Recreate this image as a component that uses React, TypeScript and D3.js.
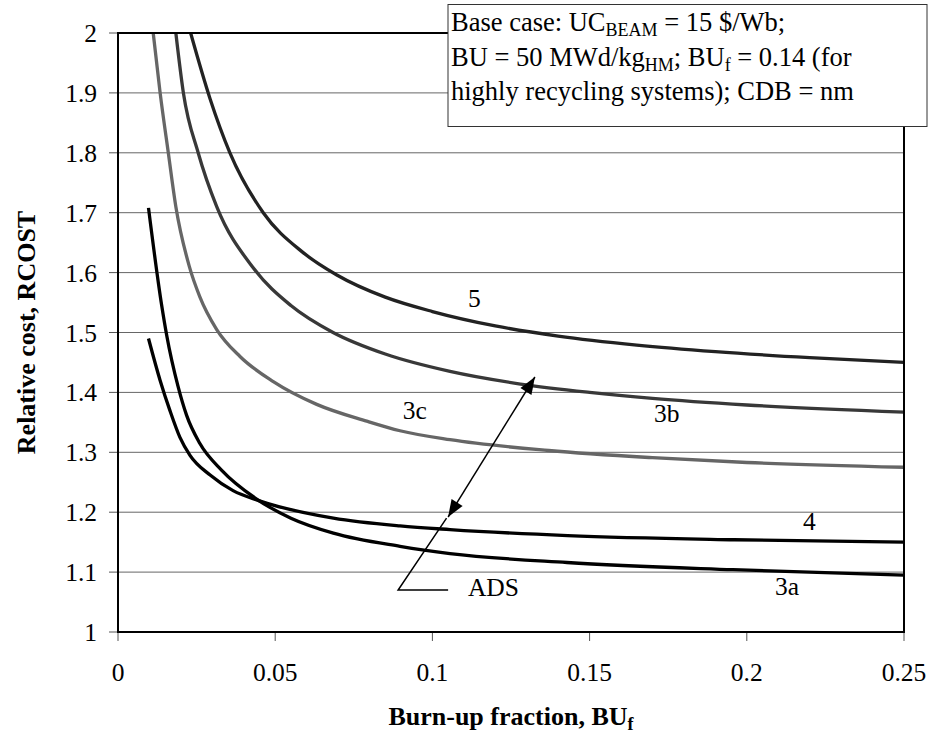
import React from 'react';
import * as d3 from 'd3';

// values: burn-up fraction -> relative cost
const bu5 = [0.0231, 0.0293, 0.0356, 0.0462, 0.0585, 0.0696, 0.085, 0.1, 0.12, 0.14, 0.165, 0.19, 0.22, 0.25];
const cost5 = [2.0, 1.89, 1.8, 1.7, 1.635, 1.596, 1.559, 1.535, 1.511, 1.494, 1.479, 1.468, 1.458, 1.45];

const bu3b = [0.0184, 0.0208, 0.0255, 0.0314, 0.043, 0.055, 0.0684, 0.085, 0.1056, 0.128, 0.15, 0.17, 0.2, 0.25];
const cost3b = [2.0, 1.9, 1.8, 1.71, 1.608, 1.545, 1.5, 1.464, 1.435, 1.414, 1.4, 1.39, 1.379, 1.367];

const bu3c = [0.0112, 0.0134, 0.016, 0.0184, 0.0227, 0.026, 0.0314, 0.0388, 0.0494, 0.0632, 0.0791, 0.0897, 0.1056, 0.137, 0.17, 0.2, 0.25];
const cost3c = [2.0, 1.9, 1.8, 1.71, 1.61, 1.56, 1.505, 1.46, 1.418, 1.38, 1.352, 1.336, 1.321, 1.303, 1.291, 1.283, 1.275];

const bu3a = [0.0097, 0.0139, 0.0155, 0.0191, 0.0218, 0.026, 0.033, 0.0441, 0.055, 0.0685, 0.0897, 0.1056, 0.1428, 0.1956, 0.25];
const cost3a = [1.708, 1.545, 1.495, 1.41, 1.362, 1.315, 1.27, 1.222, 1.19, 1.165, 1.143, 1.131, 1.116, 1.104, 1.095];

const bu4 = [0.0097, 0.0134, 0.0165, 0.0197, 0.0229, 0.0293, 0.0366, 0.045, 0.0685, 0.0897, 0.1056, 0.143, 0.196, 0.25];
const cost4 = [1.49, 1.42, 1.37, 1.325, 1.295, 1.262, 1.236, 1.219, 1.19, 1.177, 1.171, 1.161, 1.154, 1.15];

const xTicks = [0, 0.05, 0.1, 0.15, 0.2, 0.25];
const xTickLabels = ['0', '0.05', '0.1', '0.15', '0.2', '0.25'];
const yTicks = [1, 1.1, 1.2, 1.3, 1.4, 1.5, 1.6, 1.7, 1.8, 1.9, 2];
const yTickLabels = ['1', '1.1', '1.2', '1.3', '1.4', '1.5', '1.6', '1.7', '1.8', '1.9', '2'];

const seriesNames = ['5', '3b', '3c', '4', '3a'];
const seriesBu = [bu5, bu3b, bu3c, bu4, bu3a];
const seriesCost = [cost5, cost3b, cost3c, cost4, cost3a];
const seriesColor = ['#222', '#383838', '#666', '#000', '#000'];

// curve labels anchored in data coordinates
const labelText = ['5', '3c', '3b', '4', '3a', 'ADS'];
const labelBu = [0.1113, 0.0906, 0.1705, 0.2179, 0.209, 0.1113];
const labelCost = [1.5426, 1.355, 1.351, 1.17, 1.062, 1.06];

const FONT = "'Liberation Serif', 'Times New Roman', Times, serif";

export default function App() {
  const W = 929, H = 738;
  const x = d3.scaleLinear().domain([0, 0.25]).range([118, 904]);
  const y = d3.scaleLinear().domain([1, 2]).range([632, 33]);

  const line = d3.line<[number, number]>()
    .x(d => x(d[0]))
    .y(d => y(d[1]))
    .curve(d3.curveMonotoneX);

  // arrow between ADS curves
  const aTop: [number, number] = [x(0.1326), y(1.4257)];
  const aBot: [number, number] = [x(0.105), y(1.192)];
  const ang = Math.atan2(aTop[1] - aBot[1], aTop[0] - aBot[0]);
  const head = (tip: [number, number], dir: number) => {
    const len = 17, half = 6.5;
    const bx = tip[0] - Math.cos(dir) * len, by = tip[1] - Math.sin(dir) * len;
    const px = -Math.sin(dir) * half, py = Math.cos(dir) * half;
    return `M${tip[0]},${tip[1]}L${bx + px},${by + py}L${bx - px},${by - py}Z`;
  };

  const sub = { fontSize: 18 };

  return (
    <svg width={W} height={H} style={{ position: 'absolute', left: 0, top: 0, background: '#fff', fontFamily: FONT }}>
      <rect width={W} height={H} fill="#fff" />
      {/* grid */}
      {yTicks.map(t => (
        <line key={'g' + t} x1={x(0)} x2={x(0.25)} y1={y(t)} y2={y(t)} stroke="#666" strokeWidth={1} />
      ))}
      {/* ticks */}
      {yTicks.map((t, i) => (
        <g key={'yt' + t}>
          <line x1={x(0) - 9} x2={x(0)} y1={y(t)} y2={y(t)} stroke="#555" strokeWidth={1} />
          <text x={97} y={y(t) + 9} fontSize={25.5} textAnchor="end">{yTickLabels[i]}</text>
        </g>
      ))}
      {xTicks.map((t, i) => (
        <g key={'xt' + t}>
          <line x1={x(t)} x2={x(t)} y1={y(1)} y2={y(1) + 9} stroke="#555" strokeWidth={1} />
          <text x={x(t)} y={y(1) + 49} fontSize={25.5} textAnchor="middle">{xTickLabels[i]}</text>
        </g>
      ))}
      {/* curves */}
      {seriesNames.map((n, i) => (
        <path key={'s' + n}
          d={line(seriesBu[i].map((b, j) => [b, seriesCost[i][j]] as [number, number])) || ''}
          fill="none" stroke={seriesColor[i]} strokeWidth={3.3} />
      ))}
      {/* frame */}
      <rect x={x(0)} y={y(2)} width={x(0.25) - x(0)} height={y(1) - y(2)} fill="none" stroke="#000" strokeWidth={2} />
      {/* arrow */}
      <line x1={aBot[0]} y1={aBot[1]} x2={aTop[0]} y2={aTop[1]} stroke="#000" strokeWidth={1.5} />
      <path d={head(aTop, ang)} fill="#000" />
      <path d={head(aBot, ang + Math.PI)} fill="#000" />
      {/* ADS callout */}
      <polyline points={`${x(0.105)},${y(1.07)} ${x(0.0891)},${y(1.07)} ${x(0.1045)},${y(1.19)}`}
        fill="none" stroke="#000" strokeWidth={1.5} />
      {labelText.map((t, i) => (
        <text key={'l' + t} x={x(labelBu[i])} y={y(labelCost[i])} fontSize={25.5}>{t}</text>
      ))}
      {/* note box */}
      <rect x={448} y={4.5} width={479} height={122} fill="#fff" stroke="#333" strokeWidth={1} />
      <text x={451} y={31} fontSize={26.5}>
        Base case: UC<tspan dy={5} style={sub}>BEAM</tspan><tspan dy={-5}> = 15 $/Wb;</tspan>
      </text>
      <text x={451} y={66} fontSize={26.5}>
        BU = 50 MWd/kg<tspan dy={5} style={sub}>HM</tspan><tspan dy={-5}>; BU</tspan>
        <tspan dy={5} style={sub}>f</tspan><tspan dy={-5}> = 0.14 (for</tspan>
      </text>
      <text x={451} y={100} fontSize={26.5}>highly recycling systems); CDB = nm</text>
      {/* axis titles */}
      <text x={x(0.125)} y={725} fontSize={26} fontWeight="bold" textAnchor="middle">
        Burn-up fraction, BU<tspan dy={5} style={sub}>f</tspan>
      </text>
      <text transform={`translate(35,${y(1.5)}) rotate(-90)`} fontSize={26} fontWeight="bold" textAnchor="middle">
        Relative cost, RCOST
      </text>
    </svg>
  );
}
